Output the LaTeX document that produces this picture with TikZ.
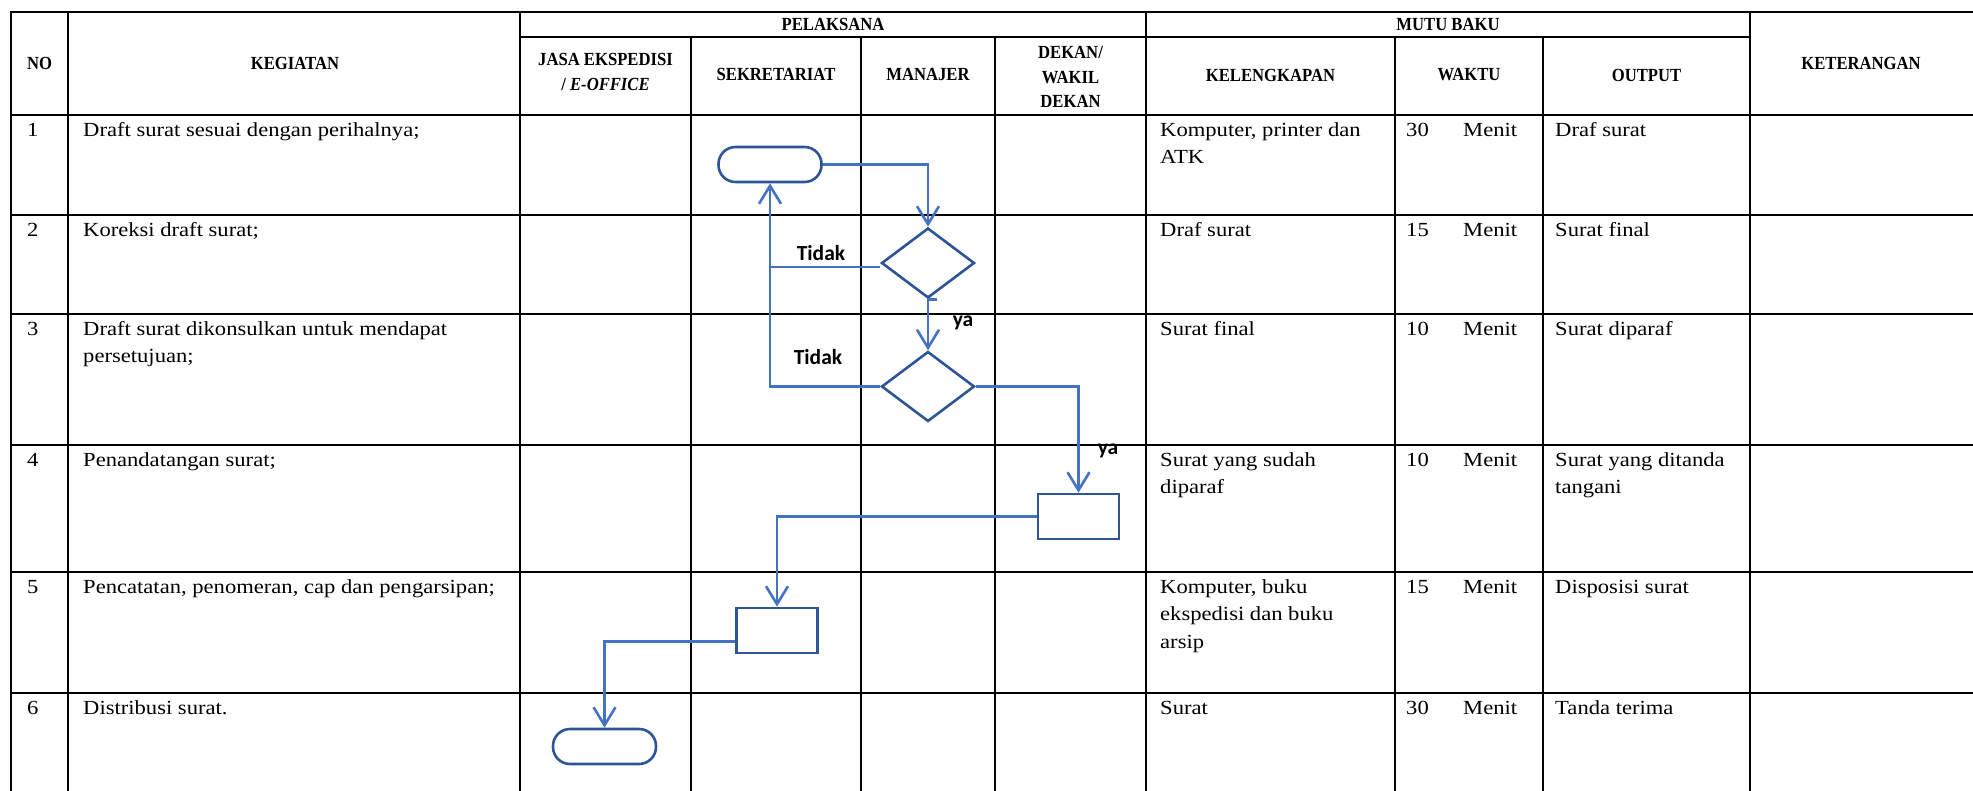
\documentclass[tikz,border=0pt]{standalone}
\usepackage{fontspec}
\setmainfont{Liberation Serif}[FakeStretch=1.13]
\newfontfamily\hdfont{Liberation Serif}[FakeStretch=0.9]
\newfontfamily\lblfont{Carlito}
\usetikzlibrary{arrows.meta,shapes.geometric}
\definecolor{connblue}{RGB}{68,114,196}
\definecolor{shapeblue}{RGB}{47,85,151}

\begin{document}
\begin{tikzpicture}[x=1pt,y=-1pt,
  grid/.style={line width=2.6pt, draw=black, line cap=rect},
  hd/.style={inner sep=0pt, align=center, font={\fontsize{18.5}{24.5}\hdfont\bfseries}},
  body/.style={anchor=base west, inner sep=0pt, font={\fontsize{20}{27.5}\selectfont}},
  term/.style={draw=shapeblue, line width=2.6pt, rounded corners=17pt,
    minimum width=103pt, minimum height=35pt, inner sep=0pt},
  dec/.style={diamond, draw=shapeblue, line width=2.6pt,
    minimum width=93pt, minimum height=70pt, inner sep=0pt},
  proc/.style={draw=shapeblue, line width=2.6pt,
    minimum width=81pt, minimum height=45pt, inner sep=0pt},
  conn/.style={draw=connblue, line width=2.6pt},
  arr/.style={conn, -{Straight Barb[length=18pt,width=22pt]}},
  lbl/.style={inner sep=0pt, font={\fontsize{21.5}{21.5}\lblfont\bfseries}}]

\useasboundingbox (0,0) rectangle (1973,790);
\fill[white] (0,0) rectangle (1973,790);

% table grid
\foreach \y in {12,115,215,314,445,572,693}
  \draw[grid] (11,\y) -- (1975,\y);
\draw[grid] (520,37) -- (1750,37);
\foreach \x in {11,68,520,1146,1750}
  \draw[grid] (\x,12) -- (\x,792);
\foreach \x in {691,861,995,1395,1543}
  \draw[grid] (\x,37) -- (\x,792);

% header
\node[hd] (hNo)   at (39.5,63.5) {NO};
\node[hd] (hKeg)  at (295,63.5)  {KEGIATAN};
\node[hd] (hPel)  at (833,24.5)  {PELAKSANA};
\node[hd] (hMutu) at (1448,24.5) {MUTU BAKU};
\node[hd] (hKet)  at (1861,63.5) {KETERANGAN};
\node[hd] (hJasa) at (605.5,72)  {JASA EKSPEDISI\\/ \textit{E-OFFICE}};
\node[hd] (hSek)  at (776,74.5)  {SEKRETARIAT};
\node[hd] (hMan)  at (928,74.5)  {MANAJER};
\node[hd] (hDek)  at (1070.5,77) {DEKAN/\\WAKIL\\DEKAN};
\node[hd] (hKel)  at (1270.5,75) {KELENGKAPAN};
\node[hd] (hWak)  at (1469,75)   {WAKTU};
\node[hd] (hOut)  at (1646.5,75) {OUTPUT};

% row 1
\node[body] (n1) at (27,136) {1};
\node[body] (k1) at (83,136) {Draft surat sesuai dengan perihalnya;};
\node[body] (l1) at (1160,136) {\parbox[t]{230pt}{Komputer, printer dan\\ATK}};
\node[body] (w1) at (1406,136) {30};
\node[body] (m1) at (1463,136) {Menit};
\node[body] (o1) at (1555,136) {Draf surat};
% row 2
\node[body] (n2) at (27,236) {2};
\node[body] (k2) at (83,236) {Koreksi draft surat;};
\node[body] (l2) at (1160,236) {Draf surat};
\node[body] (w2) at (1406,236) {15};
\node[body] (m2) at (1463,236) {Menit};
\node[body] (o2) at (1555,236) {Surat final};
% row 3
\node[body] (n3) at (27,335) {3};
\node[body] (k3) at (83,335) {\parbox[t]{420pt}{Draft surat dikonsulkan untuk mendapat\\persetujuan;}};
\node[body] (l3) at (1160,335) {Surat final};
\node[body] (w3) at (1406,335) {10};
\node[body] (m3) at (1463,335) {Menit};
\node[body] (o3) at (1555,335) {Surat diparaf};
% row 4
\node[body] (n4) at (27,466) {4};
\node[body] (k4) at (83,466) {Penandatangan surat;};
\node[body] (l4) at (1160,466) {\parbox[t]{230pt}{Surat yang sudah\\diparaf}};
\node[body] (w4) at (1406,466) {10};
\node[body] (m4) at (1463,466) {Menit};
\node[body] (o4) at (1555,466) {\parbox[t]{190pt}{Surat yang ditanda\\tangani}};
% row 5
\node[body] (n5) at (27,593) {5};
\node[body] (k5) at (83,593) {Pencatatan, penomeran, cap dan pengarsipan;};
\node[body] (l5) at (1160,593) {\parbox[t]{230pt}{Komputer, buku\\ekspedisi dan buku\\arsip}};
\node[body] (w5) at (1406,593) {15};
\node[body] (m5) at (1463,593) {Menit};
\node[body] (o5) at (1555,593) {Disposisi surat};
% row 6
\node[body] (n6) at (27,714) {6};
\node[body] (k6) at (83,714) {Distribusi surat.};
\node[body] (l6) at (1160,714) {Surat};
\node[body] (w6) at (1406,714) {30};
\node[body] (m6) at (1463,714) {Menit};
\node[body] (o6) at (1555,714) {Tanda terima};

% flowchart
\node[term] (T1) at (770,164.5) {};
\node[dec]  (D1) at (928,263) {};
\node[dec]  (D2) at (928,386.5) {};
\node[proc] (R4) at (1078.5,516.5) {};
\node[proc] (R5) at (777,630.5) {};
\node[term] (T6) at (604.5,746.5) {};

\draw[arr] (T1.east) -| (D1.north);
\draw[conn] ([xshift=9pt]D1.south) -- (D1.south);
\draw[arr] (D1.south) -- (D2.north);
\draw[conn] ([yshift=-4pt]D1.west) -- ([yshift=-4pt]D1.west -| T1.south);
\draw[arr] (D2.west) -| (T1.south);
\draw[arr] (D2.east) -| (R4.north);
\draw[arr] (R4.west) -| (R5.north);
\draw[arr] ([yshift=-11pt]R5.west) -| (T6.north);

\node[lbl] (t1) at (821,253) {Tidak};
\node[lbl] (t2) at (818,357) {Tidak};
\node[lbl] (y1) at (963,323) {ya};
\node[lbl] (y2) at (1108,451) {ya};
\end{tikzpicture}
\end{document}
